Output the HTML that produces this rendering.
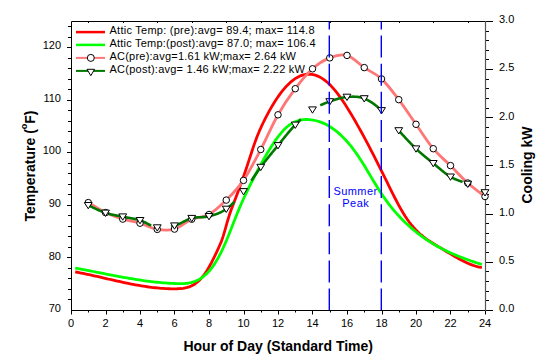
<!DOCTYPE html>
<html><head><meta charset="utf-8"><style>
html,body{margin:0;padding:0;background:#fff;}
body{width:550px;height:364px;overflow:hidden;}
svg{display:block;font-family:"Liberation Sans",sans-serif;}
</style></head><body>
<svg width="550" height="364" viewBox="0 0 550 364">
<rect x="0" y="0" width="550" height="364" fill="#fff"/>
<path d="M68.0,299.5H71 M68.0,289.5H71 M68.0,278.5H71 M68.0,268.5H71 M67.0,257.5H71 M68.0,247.5H71 M68.0,236.5H71 M68.0,226.5H71 M68.0,215.5H71 M67.0,205.5H71 M68.0,194.5H71 M68.0,184.5H71 M68.0,173.5H71 M68.0,163.5H71 M67.0,152.5H71 M68.0,142.5H71 M68.0,131.5H71 M68.0,121.5H71 M68.0,110.5H71 M67.0,100.5H71 M68.0,89.5H71 M68.0,79.5H71 M68.0,68.5H71 M68.0,58.5H71 M67.0,47.5H71 M68.0,37.5H71 M68.0,26.5H71 M485,310.5H493.0 M485,300.5H489.0 M485,291.5H489.0 M485,281.5H489.0 M485,271.5H489.0 M485,262.5H493.0 M485,252.5H489.0 M485,242.5H489.0 M485,233.5H489.0 M485,223.5H489.0 M485,214.5H493.0 M485,204.5H489.0 M485,194.5H489.0 M485,185.5H489.0 M485,175.5H489.0 M485,165.5H493.0 M485,156.5H489.0 M485,146.5H489.0 M485,137.5H489.0 M485,127.5H489.0 M485,117.5H493.0 M485,108.5H489.0 M485,98.5H489.0 M485,88.5H489.0 M485,79.5H489.0 M485,69.5H493.0 M485,59.5H489.0 M485,50.5H489.0 M485,40.5H489.0 M485,31.5H489.0 M485,21.5H493.0 M71.5,310V314.5 M88.5,310V312.5 M88.5,21V23.0 M106.5,310V314.5 M123.5,310V312.5 M123.5,21V23.0 M140.5,310V314.5 M157.5,310V312.5 M157.5,21V23.0 M174.5,310V314.5 M192.5,310V312.5 M192.5,21V23.0 M209.5,310V314.5 M226.5,310V312.5 M226.5,21V23.0 M244.5,310V314.5 M261.5,310V312.5 M261.5,21V23.0 M278.5,310V314.5 M295.5,310V312.5 M295.5,21V23.0 M312.5,310V314.5 M330.5,310V312.5 M330.5,21V23.0 M347.5,310V314.5 M364.5,310V312.5 M364.5,21V23.0 M382.5,310V314.5 M399.5,310V312.5 M399.5,21V23.0 M416.5,310V314.5 M433.5,310V312.5 M433.5,21V23.0 M450.5,310V314.5 M468.5,310V312.5 M468.5,21V23.0 M485.5,310V314.5" stroke="#000" stroke-width="1" fill="none"/>
<path d="M71.5,310.5V21.5H485" stroke="#000" stroke-width="1" fill="none"/><path d="M71,310.5H485.5" stroke="#000" stroke-width="1" fill="none"/><path d="M485.5,21V311" stroke="#555" stroke-width="1.2" fill="none"/>
<g font-size="11" fill="#000"><text x="61" y="312.0" text-anchor="end">70</text><text x="61" y="259.5" text-anchor="end">80</text><text x="61" y="206.9" text-anchor="end">90</text><text x="61" y="154.4" text-anchor="end">100</text><text x="61" y="101.8" text-anchor="end">110</text><text x="61" y="49.3" text-anchor="end">120</text><text x="499" y="312.2">0.0</text><text x="499" y="264.0">0.5</text><text x="499" y="215.9">1.0</text><text x="499" y="167.7">1.5</text><text x="499" y="119.5">2.0</text><text x="499" y="71.4">2.5</text><text x="499" y="23.2">3.0</text><text x="71.0" y="327" text-anchor="middle">0</text><text x="105.5" y="327" text-anchor="middle">2</text><text x="140.0" y="327" text-anchor="middle">4</text><text x="174.5" y="327" text-anchor="middle">6</text><text x="209.0" y="327" text-anchor="middle">8</text><text x="243.5" y="327" text-anchor="middle">10</text><text x="278.0" y="327" text-anchor="middle">12</text><text x="312.5" y="327" text-anchor="middle">14</text><text x="347.0" y="327" text-anchor="middle">16</text><text x="381.5" y="327" text-anchor="middle">18</text><text x="416.0" y="327" text-anchor="middle">20</text><text x="450.5" y="327" text-anchor="middle">22</text><text x="485.0" y="327" text-anchor="middle">24</text></g>
<path d="M75.20,271.87 L77.20,272.25 L79.20,272.63 L81.20,273.03 L83.20,273.44 L85.20,273.85 L87.20,274.28 L89.20,274.71 L91.20,275.15 L93.20,275.59 L95.20,276.04 L97.20,276.49 L99.20,276.94 L101.20,277.40 L103.20,277.86 L105.20,278.32 L107.20,278.78 L109.20,279.24 L111.20,279.69 L113.20,280.15 L115.20,280.60 L117.20,281.05 L119.20,281.49 L121.20,281.93 L123.20,282.36 L125.20,282.79 L127.20,283.20 L129.20,283.61 L131.20,284.01 L133.20,284.40 L135.20,284.77 L137.20,285.14 L139.20,285.49 L141.20,285.83 L143.20,286.16 L145.20,286.47 L147.20,286.76 L149.20,287.04 L151.20,287.30 L153.20,287.54 L155.20,287.76 L157.20,287.97 L159.20,288.15 L161.20,288.31 L163.20,288.45 L165.20,288.57 L167.20,288.66 L169.20,288.73 L171.20,288.78 L173.20,288.79 L175.20,288.78 L177.20,288.75 L179.20,288.67 L181.20,288.52 L183.20,288.29 L185.20,287.94 L187.20,287.46 L189.20,286.83 L191.20,286.01 L193.20,284.99 L195.20,283.74 L197.20,282.24 L199.20,280.46 L201.20,278.39 L203.20,276.00 L205.20,273.26 L207.20,270.18 L209.20,266.77 L211.20,263.10 L213.20,259.19 L215.20,255.09 L217.20,250.85 L219.20,246.52 L221.20,241.93 L223.20,236.13 L225.20,229.27 L227.20,222.15 L229.20,215.57 L231.20,209.78 L233.20,204.48 L235.20,199.36 L237.20,194.10 L239.20,188.63 L241.20,183.04 L243.20,177.43 L245.20,171.73 L247.20,165.80 L249.20,159.67 L251.20,153.49 L253.20,147.43 L255.20,141.64 L257.20,136.29 L259.20,131.43 L261.20,126.95 L263.20,122.74 L265.20,118.71 L267.20,114.84 L269.20,111.13 L271.20,107.59 L273.20,104.21 L275.20,101.01 L277.20,97.97 L279.20,95.11 L281.20,92.42 L283.20,89.91 L285.20,87.57 L287.20,85.42 L289.20,83.45 L291.20,81.66 L293.20,80.07 L295.20,78.66 L297.20,77.44 L299.20,76.41 L301.20,75.58 L303.20,74.94 L305.20,74.50 L307.20,74.25 L309.20,74.19 L311.20,74.33 L313.20,74.66 L315.20,75.18 L317.20,75.89 L319.20,76.79 L321.20,77.87 L323.20,79.15 L325.20,80.61 L327.20,82.25 L329.20,84.09 L331.20,86.10 L333.20,88.29 L335.20,90.65 L337.20,93.16 L339.20,95.82 L341.20,98.61 L343.20,101.52 L345.20,104.55 L347.20,107.69 L349.20,110.92 L351.20,114.23 L353.20,117.62 L355.20,121.07 L357.20,124.58 L359.20,128.14 L361.20,131.75 L363.20,135.42 L365.20,139.13 L367.20,142.89 L369.20,146.69 L371.20,150.53 L373.20,154.41 L375.20,158.33 L377.20,162.28 L379.20,166.26 L381.20,170.27 L383.20,174.30 L385.20,178.36 L387.20,182.44 L389.20,186.52 L391.20,190.57 L393.20,194.57 L395.20,198.49 L397.20,202.33 L399.20,206.04 L401.20,209.61 L403.20,213.02 L405.20,216.23 L407.20,219.24 L409.20,222.03 L411.20,224.61 L413.20,227.01 L415.20,229.22 L417.20,231.28 L419.20,233.18 L421.20,234.95 L423.20,236.60 L425.20,238.14 L427.20,239.59 L429.20,240.96 L431.20,242.26 L433.20,243.52 L435.20,244.74 L437.20,245.94 L439.20,247.13 L441.20,248.32 L443.20,249.53 L445.20,250.74 L447.20,251.96 L449.20,253.17 L451.20,254.37 L453.20,255.56 L455.20,256.73 L457.20,257.86 L459.20,258.97 L461.20,260.04 L463.20,261.07 L465.20,262.05 L467.20,262.97 L469.20,263.84 L471.20,264.64 L473.20,265.37 L475.20,266.02 L477.20,266.59 L479.20,267.08 L481.20,267.47 L481.90,267.58" stroke="#ff0000" stroke-width="2.8" fill="none" stroke-linejoin="round"/>
<path d="M75.20,268.01 L77.20,268.39 L79.20,268.77 L81.20,269.15 L83.20,269.54 L85.20,269.93 L87.20,270.32 L89.20,270.71 L91.20,271.11 L93.20,271.50 L95.20,271.90 L97.20,272.29 L99.20,272.69 L101.20,273.08 L103.20,273.48 L105.20,273.87 L107.20,274.26 L109.20,274.65 L111.20,275.04 L113.20,275.42 L115.20,275.80 L117.20,276.18 L119.20,276.55 L121.20,276.92 L123.20,277.28 L125.20,277.63 L127.20,277.98 L129.20,278.33 L131.20,278.66 L133.20,278.99 L135.20,279.32 L137.20,279.63 L139.20,279.94 L141.20,280.23 L143.20,280.52 L145.20,280.80 L147.20,281.07 L149.20,281.33 L151.20,281.57 L153.20,281.81 L155.20,282.03 L157.20,282.24 L159.20,282.44 L161.20,282.63 L163.20,282.80 L165.20,282.96 L167.20,283.11 L169.20,283.24 L171.20,283.36 L173.20,283.46 L175.20,283.54 L177.20,283.61 L179.20,283.65 L181.20,283.65 L183.20,283.60 L185.20,283.48 L187.20,283.27 L189.20,282.96 L191.20,282.53 L193.20,281.97 L195.20,281.27 L197.20,280.41 L199.20,279.37 L201.20,278.13 L203.20,276.69 L205.20,275.03 L207.20,273.14 L209.20,270.99 L211.20,268.57 L213.20,265.88 L215.20,262.88 L217.20,259.58 L219.20,255.96 L221.20,252.06 L223.20,247.87 L225.20,243.41 L227.20,238.70 L229.20,233.77 L231.20,228.69 L233.20,223.55 L235.20,218.43 L237.20,213.43 L239.20,208.61 L241.20,204.00 L243.20,199.55 L245.20,195.25 L247.20,191.07 L249.20,186.98 L251.20,182.96 L253.20,179.00 L255.20,175.11 L257.20,171.29 L259.20,167.54 L261.20,163.86 L263.20,160.26 L265.20,156.73 L267.20,153.29 L269.20,149.95 L271.20,146.73 L273.20,143.64 L275.20,140.68 L277.20,137.89 L279.20,135.27 L281.20,132.83 L283.20,130.59 L285.20,128.56 L287.20,126.76 L289.20,125.19 L291.20,123.83 L293.20,122.69 L295.20,121.73 L297.20,120.97 L299.20,120.37 L301.20,119.94 L303.20,119.65 L305.20,119.51 L307.20,119.49 L309.20,119.59 L311.20,119.79 L313.20,120.09 L315.20,120.50 L317.20,121.00 L319.20,121.60 L321.20,122.31 L323.20,123.13 L325.20,124.05 L327.20,125.08 L329.20,126.23 L331.20,127.48 L333.20,128.85 L335.20,130.33 L337.20,131.92 L339.20,133.64 L341.20,135.47 L343.20,137.43 L345.20,139.50 L347.20,141.71 L349.20,144.03 L351.20,146.48 L353.20,149.06 L355.20,151.77 L357.20,154.61 L359.20,157.58 L361.20,160.67 L363.20,163.85 L365.20,167.10 L367.20,170.41 L369.20,173.75 L371.20,177.10 L373.20,180.45 L375.20,183.76 L377.20,187.02 L379.20,190.21 L381.20,193.30 L383.20,196.28 L385.20,199.14 L387.20,201.90 L389.20,204.54 L391.20,207.08 L393.20,209.52 L395.20,211.87 L397.20,214.13 L399.20,216.31 L401.20,218.41 L403.20,220.43 L405.20,222.39 L407.20,224.28 L409.20,226.11 L411.20,227.88 L413.20,229.59 L415.20,231.25 L417.20,232.85 L419.20,234.40 L421.20,235.89 L423.20,237.34 L425.20,238.74 L427.20,240.09 L429.20,241.39 L431.20,242.65 L433.20,243.87 L435.20,245.05 L437.20,246.19 L439.20,247.28 L441.20,248.35 L443.20,249.38 L445.20,250.37 L447.20,251.33 L449.20,252.27 L451.20,253.17 L453.20,254.05 L455.20,254.90 L457.20,255.72 L459.20,256.53 L461.20,257.31 L463.20,258.07 L465.20,258.82 L467.20,259.55 L469.20,260.26 L471.20,260.96 L473.20,261.65 L475.20,262.32 L477.20,262.99 L479.20,263.65 L481.20,264.31 L481.90,264.53" stroke="#00ff00" stroke-width="2.8" fill="none" stroke-linejoin="round"/>
<path d="M88.25,202.60 C91.12,204.27 99.75,209.85 105.50,212.60 C111.25,215.35 117.00,217.33 122.75,219.10 C128.50,220.87 134.25,221.48 140.00,223.20 C145.75,224.92 151.50,228.42 157.25,229.40 C163.00,230.38 168.75,230.80 174.50,229.10 C180.25,227.40 186.00,221.63 191.75,219.20 C197.50,216.77 203.25,217.68 209.00,214.50 C214.75,211.32 220.50,205.78 226.25,200.10 C232.00,194.42 237.75,188.83 243.50,180.40 C249.25,171.97 255.00,160.43 260.75,149.50 C266.50,138.57 272.25,124.93 278.00,114.80 C283.75,104.67 289.50,96.37 295.25,88.70 C301.00,81.03 306.75,73.93 312.50,68.80 C318.25,63.67 324.00,60.13 329.75,57.90 C335.50,55.67 341.25,53.78 347.00,55.40 C352.75,57.02 358.50,63.68 364.25,67.60 C370.00,71.52 375.75,73.56 381.50,78.90 C387.25,84.24 393.00,92.08 398.75,99.65 C404.50,107.22 410.25,116.12 416.00,124.30 C421.75,132.47 427.50,141.82 433.25,148.70 C439.00,155.58 444.75,159.88 450.50,165.60 C456.25,171.32 462.00,177.85 467.75,183.00 C473.50,188.15 482.12,194.25 485.00,196.50" stroke="#ff7676" stroke-width="2.8" fill="none"/>
<path d="M88.25,205.30 L88.48,205.40 L88.72,205.51 L88.99,205.64 L89.28,205.77 L89.58,205.91 L89.90,206.06 L90.24,206.23 L90.60,206.39 L90.97,206.57 L91.35,206.75 L91.75,206.94 L92.16,207.14 L92.58,207.34 L93.01,207.55 L93.46,207.76 L93.91,207.98 L94.37,208.19 L94.84,208.41 L95.31,208.64 L95.80,208.86 L96.28,209.09 L96.78,209.32 L97.27,209.54 L97.77,209.77 L98.27,209.99 L98.78,210.22 L99.28,210.44 L99.78,210.66 L100.28,210.88 L100.78,211.09 L101.28,211.30 L101.77,211.50 L102.26,211.70 L102.75,211.89 L103.23,212.08 L103.70,212.26 L104.16,212.43 L104.62,212.60 L105.06,212.75 L105.50,212.90 L105.93,213.04 L106.36,213.18 L106.79,213.31 L107.23,213.43 L107.66,213.56 L108.09,213.68 L108.52,213.79 L108.95,213.91 L109.38,214.02 L109.81,214.12 L110.24,214.23 L110.67,214.33 L111.11,214.42 L111.54,214.52 L111.97,214.61 L112.40,214.70 L112.83,214.79 L113.26,214.88 L113.69,214.97 L114.12,215.05 L114.56,215.13 L114.99,215.22 L115.42,215.30 L115.85,215.38 L116.28,215.46 L116.71,215.54 L117.14,215.62 L117.58,215.69 L118.01,215.77 L118.44,215.85 L118.87,215.93 L119.30,216.01 L119.73,216.09 L120.16,216.18 L120.59,216.26 L121.03,216.35 L121.46,216.43 L121.89,216.52 L122.32,216.61 L122.75,216.70 L123.18,216.79 L123.61,216.88 L124.04,216.97 L124.48,217.05 L124.91,217.13 L125.34,217.22 L125.77,217.30 L126.20,217.37 L126.63,217.45 L127.06,217.53 L127.49,217.60 L127.92,217.68 L128.36,217.75 L128.79,217.83 L129.22,217.90 L129.65,217.98 L130.08,218.05 L130.51,218.13 L130.94,218.20 L131.38,218.28 L131.81,218.36 L132.24,218.44 L132.67,218.52 L133.10,218.60 L133.53,218.69 L133.96,218.77 L134.39,218.86 L134.82,218.95 L135.26,219.05 L135.69,219.14 L136.12,219.24 L136.55,219.35 L136.98,219.45 L137.41,219.56 L137.84,219.67 L138.28,219.79 L138.71,219.91 L139.14,220.04 L139.57,220.17 L140.00,220.30 L140.43,220.44 L140.86,220.59 L141.29,220.75 L141.73,220.92 L142.16,221.10 L142.59,221.28 L143.02,221.47 L143.45,221.67 L143.88,221.87 L144.31,222.08 L144.74,222.29 L145.17,222.51 L145.61,222.73 L146.04,222.95 L146.47,223.17 L146.90,223.40 L147.33,223.62 L147.76,223.85 L148.19,224.07 L148.62,224.29 L149.06,224.52 L149.49,224.74 L149.92,224.95 L150.35,225.16 L150.78,225.37 L151.21,225.58 M171.05,226.59 L171.48,226.48 L171.91,226.38 L172.34,226.27 L172.78,226.16 L173.21,226.05 L173.64,225.93 L174.07,225.82 L174.50,225.70 L174.93,225.58 L175.36,225.44 L175.79,225.30 L176.23,225.15 L176.66,224.99 L177.09,224.82 L177.52,224.65 L177.95,224.47 L178.38,224.28 L178.81,224.09 L179.24,223.89 L179.67,223.69 L180.11,223.48 L180.54,223.27 L180.97,223.05 L181.40,222.83 L181.83,222.62 L182.26,222.39 L182.69,222.17 L183.12,221.95 L183.56,221.73 L183.99,221.51 L184.42,221.28 L184.85,221.07 L185.28,220.85 L185.71,220.63 L186.14,220.42 L186.57,220.21 L187.01,220.01 L187.44,219.81 L187.87,219.62 L188.30,219.43 L188.73,219.25 L189.16,219.08 L189.59,218.91 L190.03,218.75 L190.46,218.60 L190.89,218.46 L191.32,218.32 L191.75,218.20 L192.18,218.09 L192.61,217.99 L193.04,217.89 L193.48,217.81 L193.91,217.73 L194.34,217.66 L194.77,217.60 L195.20,217.55 L195.63,217.50 L196.06,217.46 L196.49,217.42 L196.92,217.39 L197.36,217.36 L197.79,217.34 L198.22,217.31 L198.65,217.30 L199.08,217.28 L199.51,217.26 L199.94,217.25 L200.38,217.24 L200.81,217.22 L201.24,217.21 L201.67,217.20 L202.10,217.18 L202.53,217.16 L202.96,217.14 L203.39,217.12 L203.82,217.09 L204.26,217.06 L204.69,217.02 L205.12,216.98 L205.55,216.94 L205.98,216.88 L206.41,216.82 L206.84,216.76 L207.28,216.68 L207.71,216.60 L208.14,216.51 L208.57,216.41 L209.00,216.30 L209.43,216.18 L209.86,216.07 L210.29,215.95 L210.72,215.84 L211.16,215.72 L211.59,215.60 L212.02,215.47 L212.45,215.35 L212.88,215.22 L213.31,215.10 L213.74,214.97 L214.17,214.83 L214.61,214.69 L215.04,214.55 L215.47,214.41 L215.90,214.26 L216.33,214.11 L216.76,213.96 L217.19,213.80 L217.62,213.63 L218.06,213.46 L218.49,213.29 L218.92,213.11 L219.35,212.92 L219.78,212.73 L220.21,212.53 L220.64,212.33 L221.07,212.12 L221.51,211.90 L221.94,211.68 L222.37,211.44 L222.80,211.21 L223.23,210.96 L223.66,210.70 L224.09,210.44 L224.53,210.17 L224.96,209.89 L225.39,209.60 L225.82,209.31 L226.25,209.00 L226.68,208.68 L227.11,208.36 L227.54,208.03 L227.98,207.69 L228.41,207.34 L228.84,206.98 L229.27,206.62 L229.70,206.25 L230.13,205.87 L230.56,205.48 L230.99,205.09 L231.42,204.69 L231.86,204.28 L232.29,203.87 L232.72,203.45 L233.15,203.02 L233.58,202.59 L234.01,202.15 L234.44,201.71 M251.26,180.78 L251.69,180.14 L252.12,179.51 L252.56,178.87 L252.99,178.23 L253.42,177.59 L253.85,176.95 L254.28,176.32 L254.71,175.68 L255.14,175.04 L255.57,174.41 L256.01,173.78 L256.44,173.15 L256.87,172.52 L257.30,171.90 L257.73,171.28 L258.16,170.67 L258.59,170.06 L259.02,169.45 L259.46,168.86 L259.89,168.26 L260.32,167.68 L260.75,167.10 L261.18,166.53 L261.61,165.95 L262.04,165.39 L262.48,164.82 L262.91,164.25 L263.34,163.69 L263.77,163.13 L264.20,162.57 L264.63,162.02 L265.06,161.46 L265.49,160.91 L265.92,160.36 L266.36,159.81 L266.79,159.26 L267.22,158.72 L267.65,158.18 L268.08,157.63 L268.51,157.09 L268.94,156.55 L269.38,156.01 L269.81,155.47 L270.24,154.94 L270.67,154.40 L271.10,153.87 L271.53,153.34 L271.96,152.80 L272.39,152.27 L272.82,151.74 L273.26,151.21 L273.69,150.68 L274.12,150.15 L274.55,149.62 L274.98,149.09 L275.41,148.57 L275.84,148.04 L276.28,147.51 L276.71,146.98 L277.14,146.45 L277.57,145.93 L278.00,145.40 L278.43,144.87 L278.86,144.34 L279.29,143.81 L279.73,143.28 L280.16,142.74 L280.59,142.21 L281.02,141.67 L281.45,141.14 L281.88,140.60 L282.31,140.07 L282.74,139.53 L283.17,138.99 L283.61,138.46 L284.04,137.93 L284.47,137.39 L284.90,136.86 L285.33,136.33 L285.76,135.80 L286.19,135.27 L286.62,134.74 L287.06,134.22 L287.49,133.70 L287.92,133.18 L288.35,132.66 L288.78,132.15 L289.21,131.64 L289.64,131.13 L290.07,130.62 L290.51,130.12 L290.94,129.62 L291.37,129.13 L291.80,128.64 L292.23,128.16 L292.66,127.68 L293.09,127.20 L293.52,126.73 L293.96,126.26 L294.39,125.80 L294.82,125.35 L295.25,124.90 L295.68,124.45 L296.11,124.01 L296.54,123.57 L296.98,123.13 L297.41,122.70 L297.84,122.27 L298.27,121.84 L298.70,121.41 L299.13,120.98 L299.56,120.56 L299.99,120.15 L300.42,119.73 L300.86,119.32 M320.26,105.33 L320.69,105.13 L321.12,104.93 L321.56,104.74 L321.99,104.55 L322.42,104.36 L322.85,104.18 L323.28,104.00 L323.71,103.82 L324.14,103.64 L324.57,103.47 L325.01,103.30 L325.44,103.13 L325.87,102.96 L326.30,102.79 L326.73,102.63 L327.16,102.46 L327.59,102.30 L328.03,102.14 L328.46,101.98 L328.89,101.82 L329.32,101.66 L329.75,101.50 L330.18,101.34 L330.61,101.18 L331.04,101.03 L331.48,100.87 L331.91,100.72 L332.34,100.57 L332.77,100.42 L333.20,100.27 L333.63,100.12 L334.06,99.97 L334.49,99.83 L334.92,99.69 L335.36,99.55 L335.79,99.41 L336.22,99.28 L336.65,99.15 L337.08,99.02 L337.51,98.89 L337.94,98.76 L338.38,98.64 L338.81,98.53 L339.24,98.41 L339.67,98.30 L340.10,98.19 L340.53,98.09 L340.96,97.98 L341.39,97.89 L341.82,97.79 L342.26,97.70 L342.69,97.62 L343.12,97.53 L343.55,97.46 L343.98,97.38 L344.41,97.31 L344.84,97.25 L345.27,97.19 L345.71,97.14 L346.14,97.09 L346.57,97.04 L347.00,97.00 L347.43,96.96 L347.86,96.93 L348.29,96.89 L348.73,96.86 L349.16,96.83 L349.59,96.80 L350.02,96.77 L350.45,96.75 L350.88,96.73 L351.31,96.71 L351.74,96.69 L352.17,96.68 L352.61,96.67 L353.04,96.67 L353.47,96.67 L353.90,96.67 L354.33,96.68 L354.76,96.69 L355.19,96.70 L355.62,96.72 L356.06,96.75 L356.49,96.78 L356.92,96.82 L357.35,96.86 L357.78,96.91 L358.21,96.97 L358.64,97.03 L359.07,97.10 L359.51,97.17 L359.94,97.25 L360.37,97.34 L360.80,97.44 L361.23,97.54 L361.66,97.65 L362.09,97.77 L362.53,97.90 L362.96,98.04 L363.39,98.18 L363.82,98.34 L364.25,98.50 L364.68,98.67 L365.11,98.85 L365.54,99.04 L365.98,99.23 L366.41,99.43 L366.84,99.64 L367.27,99.86 L367.70,100.08 L368.13,100.31 L368.56,100.55 L368.99,100.80 L369.42,101.05 L369.86,101.31 L370.29,101.57 L370.72,101.84 L371.15,102.12 L371.58,102.40 L372.01,102.69 L372.44,102.99 L372.88,103.29 L373.31,103.59 L373.74,103.91 L374.17,104.23 L374.60,104.55 L375.03,104.88 L375.46,105.21 L375.89,105.55 L376.32,105.90 L376.76,106.25 L377.19,106.60 L377.62,106.96 L378.05,107.33 L378.48,107.70 L378.91,108.07 L379.34,108.45 L379.78,108.83 L380.21,109.22 L380.64,109.61 L381.07,110.00 L381.50,110.40 M398.75,130.50 L399.18,130.98 L399.61,131.46 L400.04,131.94 L400.48,132.41 L400.91,132.89 L401.34,133.37 L401.77,133.84 L402.20,134.32 L402.63,134.79 L403.06,135.27 L403.49,135.74 L403.92,136.21 L404.36,136.68 L404.79,137.15 L405.22,137.62 L405.65,138.09 L406.08,138.56 L406.51,139.02 L406.94,139.48 L407.38,139.94 L407.81,140.40 L408.24,140.86 L408.67,141.32 L409.10,141.77 L409.53,142.22 L409.96,142.67 L410.39,143.12 L410.82,143.56 L411.26,144.01 L411.69,144.45 L412.12,144.89 L412.55,145.32 L412.98,145.75 L413.41,146.18 L413.84,146.61 L414.27,147.03 L414.71,147.46 L415.14,147.87 L415.57,148.29 L416.00,148.70 L416.43,149.11 L416.86,149.51 L417.29,149.91 L417.73,150.31 L418.16,150.70 L418.59,151.10 L419.02,151.48 L419.45,151.87 L419.88,152.25 L420.31,152.63 L420.74,153.01 L421.17,153.38 L421.61,153.75 L422.04,154.12 L422.47,154.49 L422.90,154.85 L423.33,155.22 L423.76,155.58 L424.19,155.94 L424.62,156.29 L425.06,156.65 L425.49,157.01 L425.92,157.36 L426.35,157.71 L426.78,158.06 L427.21,158.41 L427.64,158.76 L428.07,159.11 L428.51,159.46 L428.94,159.81 L429.37,160.16 L429.80,160.51 L430.23,160.86 L430.66,161.20 L431.09,161.55 L431.53,161.90 L431.96,162.25 L432.39,162.60 L432.82,162.95 L433.25,163.30 L433.68,163.65 L434.11,164.01 L434.54,164.36 L434.98,164.72 L435.41,165.08 L435.84,165.44 L436.27,165.81 L436.70,166.17 L437.13,166.54 L437.56,166.90 L437.99,167.26 L438.42,167.63 L438.86,167.99 L439.29,168.36 L439.72,168.72 L440.15,169.08 L440.58,169.44 L441.01,169.80 L441.44,170.16 L441.88,170.51 L442.31,170.87 L442.74,171.22 L443.17,171.56 L443.60,171.91 L444.03,172.25 L444.46,172.58 L444.89,172.92 L445.32,173.25 L445.76,173.57 L446.19,173.89 L446.62,174.21 L447.05,174.52 L447.48,174.83 L447.91,175.13 L448.34,175.42 L448.77,175.71 L449.21,175.99 L449.64,176.27 L450.07,176.54 L450.50,176.80 L450.93,177.05 L451.36,177.30 L451.79,177.54 L452.23,177.77 L452.66,177.99 L453.09,178.21 L453.52,178.42 L453.95,178.62 L454.38,178.82 L454.81,179.01 L455.24,179.20 L455.67,179.38 L456.11,179.56 L456.54,179.73 L456.97,179.90 L457.40,180.07 L457.83,180.24 L458.26,180.40 L458.69,180.56 L459.12,180.71 L459.56,180.87 L459.99,181.02 L460.42,181.18 L460.85,181.33 L461.28,181.48 L461.71,181.63 L462.14,181.79 L462.57,181.94 M481.09,190.53 L481.50,190.74 L481.90,190.94 L482.28,191.14 L482.65,191.32 L483.01,191.50 L483.35,191.67 L483.67,191.84 L483.97,191.99 L484.26,192.13 L484.53,192.27 L484.77,192.39 L485.00,192.50" stroke="#007800" stroke-width="2.6" fill="none" stroke-linejoin="round"/>
<circle cx="88.25" cy="202.60" r="3.25" fill="#fff" stroke="#000" stroke-width="1"/><circle cx="105.50" cy="212.60" r="3.25" fill="#fff" stroke="#000" stroke-width="1"/><circle cx="122.75" cy="219.10" r="3.25" fill="#fff" stroke="#000" stroke-width="1"/><circle cx="140.00" cy="223.20" r="3.25" fill="#fff" stroke="#000" stroke-width="1"/><circle cx="157.25" cy="229.40" r="3.25" fill="#fff" stroke="#000" stroke-width="1"/><circle cx="174.50" cy="229.10" r="3.25" fill="#fff" stroke="#000" stroke-width="1"/><circle cx="191.75" cy="219.20" r="3.25" fill="#fff" stroke="#000" stroke-width="1"/><circle cx="209.00" cy="214.50" r="3.25" fill="#fff" stroke="#000" stroke-width="1"/><circle cx="226.25" cy="200.10" r="3.25" fill="#fff" stroke="#000" stroke-width="1"/><circle cx="243.50" cy="180.40" r="3.25" fill="#fff" stroke="#000" stroke-width="1"/><circle cx="260.75" cy="149.50" r="3.25" fill="#fff" stroke="#000" stroke-width="1"/><circle cx="278.00" cy="114.80" r="3.25" fill="#fff" stroke="#000" stroke-width="1"/><circle cx="295.25" cy="88.70" r="3.25" fill="#fff" stroke="#000" stroke-width="1"/><circle cx="312.50" cy="68.80" r="3.25" fill="#fff" stroke="#000" stroke-width="1"/><circle cx="329.75" cy="57.90" r="3.25" fill="#fff" stroke="#000" stroke-width="1"/><circle cx="347.00" cy="55.40" r="3.25" fill="#fff" stroke="#000" stroke-width="1"/><circle cx="364.25" cy="67.60" r="3.25" fill="#fff" stroke="#000" stroke-width="1"/><circle cx="381.50" cy="78.90" r="3.25" fill="#fff" stroke="#000" stroke-width="1"/><circle cx="398.75" cy="99.65" r="3.25" fill="#fff" stroke="#000" stroke-width="1"/><circle cx="416.00" cy="124.30" r="3.25" fill="#fff" stroke="#000" stroke-width="1"/><circle cx="433.25" cy="148.70" r="3.25" fill="#fff" stroke="#000" stroke-width="1"/><circle cx="450.50" cy="165.60" r="3.25" fill="#fff" stroke="#000" stroke-width="1"/><circle cx="467.75" cy="183.00" r="3.25" fill="#fff" stroke="#000" stroke-width="1"/><circle cx="485.00" cy="196.50" r="3.25" fill="#fff" stroke="#000" stroke-width="1"/><path d="M84.35,202.50 L92.15,202.50 L88.25,208.80 Z" fill="#fff" stroke="#000" stroke-width="1"/><path d="M101.60,210.10 L109.40,210.10 L105.50,216.40 Z" fill="#fff" stroke="#000" stroke-width="1"/><path d="M118.85,213.90 L126.65,213.90 L122.75,220.20 Z" fill="#fff" stroke="#000" stroke-width="1"/><path d="M136.10,217.50 L143.90,217.50 L140.00,223.80 Z" fill="#fff" stroke="#000" stroke-width="1"/><path d="M153.35,224.80 L161.15,224.80 L157.25,231.10 Z" fill="#fff" stroke="#000" stroke-width="1"/><path d="M170.60,222.90 L178.40,222.90 L174.50,229.20 Z" fill="#fff" stroke="#000" stroke-width="1"/><path d="M187.85,215.40 L195.65,215.40 L191.75,221.70 Z" fill="#fff" stroke="#000" stroke-width="1"/><path d="M205.10,213.50 L212.90,213.50 L209.00,219.80 Z" fill="#fff" stroke="#000" stroke-width="1"/><path d="M222.35,206.20 L230.15,206.20 L226.25,212.50 Z" fill="#fff" stroke="#000" stroke-width="1"/><path d="M239.60,188.60 L247.40,188.60 L243.50,194.90 Z" fill="#fff" stroke="#000" stroke-width="1"/><path d="M256.85,164.30 L264.65,164.30 L260.75,170.60 Z" fill="#fff" stroke="#000" stroke-width="1"/><path d="M274.10,142.60 L281.90,142.60 L278.00,148.90 Z" fill="#fff" stroke="#000" stroke-width="1"/><path d="M291.35,122.10 L299.15,122.10 L295.25,128.40 Z" fill="#fff" stroke="#000" stroke-width="1"/><path d="M308.60,106.90 L316.40,106.90 L312.50,113.20 Z" fill="#fff" stroke="#000" stroke-width="1"/><path d="M325.85,98.70 L333.65,98.70 L329.75,105.00 Z" fill="#fff" stroke="#000" stroke-width="1"/><path d="M343.10,94.20 L350.90,94.20 L347.00,100.50 Z" fill="#fff" stroke="#000" stroke-width="1"/><path d="M360.35,95.70 L368.15,95.70 L364.25,102.00 Z" fill="#fff" stroke="#000" stroke-width="1"/><path d="M377.60,107.60 L385.40,107.60 L381.50,113.90 Z" fill="#fff" stroke="#000" stroke-width="1"/><path d="M394.85,127.70 L402.65,127.70 L398.75,134.00 Z" fill="#fff" stroke="#000" stroke-width="1"/><path d="M412.10,145.90 L419.90,145.90 L416.00,152.20 Z" fill="#fff" stroke="#000" stroke-width="1"/><path d="M429.35,160.50 L437.15,160.50 L433.25,166.80 Z" fill="#fff" stroke="#000" stroke-width="1"/><path d="M446.60,174.00 L454.40,174.00 L450.50,180.30 Z" fill="#fff" stroke="#000" stroke-width="1"/><path d="M463.85,181.20 L471.65,181.20 L467.75,187.50 Z" fill="#fff" stroke="#000" stroke-width="1"/><path d="M481.10,189.70 L488.90,189.70 L485.00,196.00 Z" fill="#fff" stroke="#000" stroke-width="1"/>
<path d="M329.3,21.5V310 M381.3,21.5V310" stroke="#0000ff" stroke-width="1.4" stroke-dasharray="8,6.1,22,6.1,22,6.1,22,6.1,22,6.1,22,6.1,22,6.1,22,6.1,22,6.1,22,6.1,22" fill="none"/>
<g font-size="11" fill="#0000ff" text-anchor="middle"><text x="355.3" y="195.3" textLength="43.5" lengthAdjust="spacing">Summer</text><text x="355.5" y="206.7" textLength="26.5" lengthAdjust="spacing">Peak</text></g>
<g stroke-linecap="butt"><path d="M76,32.1H105" stroke="#ff0000" stroke-width="2.5"/><path d="M76,44.9H105" stroke="#00ff00" stroke-width="2.5"/><path d="M76,57.9H105" stroke="#ff7676" stroke-width="2"/><path d="M76,70.9H105" stroke="#007800" stroke-width="2"/><circle cx="90.8" cy="57.9" r="3.5" fill="#fff" stroke="#000" stroke-width="1"/><path d="M87,69.3 L94.6,69.3 L90.8,75.7 Z" fill="#fff" stroke="#000" stroke-width="1"/></g>
<g font-size="11" fill="#000" lengthAdjust="spacing"><text x="109.5" y="34" textLength="205">Attic Temp: (pre):avg= 89.4; max= 114.8</text><text x="109.5" y="46.8" textLength="206">Attic Temp:(post):avg= 87.0; max= 106.4</text><text x="109.5" y="59.6" textLength="186.5">AC(pre):avg=1.61 kW;max= 2.64 kW</text><text x="109.5" y="72.5" textLength="195.5">AC(post):avg= 1.46 kW;max= 2.22 kW</text></g>
<text x="278.2" y="351" font-size="14" font-weight="bold" text-anchor="middle">Hour of Day (Standard Time)</text>
<text transform="translate(34.8,166) rotate(-90)" font-size="14" font-weight="bold" text-anchor="middle">Temperature (<tspan font-size="9" dy="-7.5">o</tspan><tspan dy="7.5">F)</tspan></text>
<text transform="translate(531.5,165) rotate(-90)" font-size="14" font-weight="bold" text-anchor="middle">Cooling kW</text>
</svg>
</body></html>
